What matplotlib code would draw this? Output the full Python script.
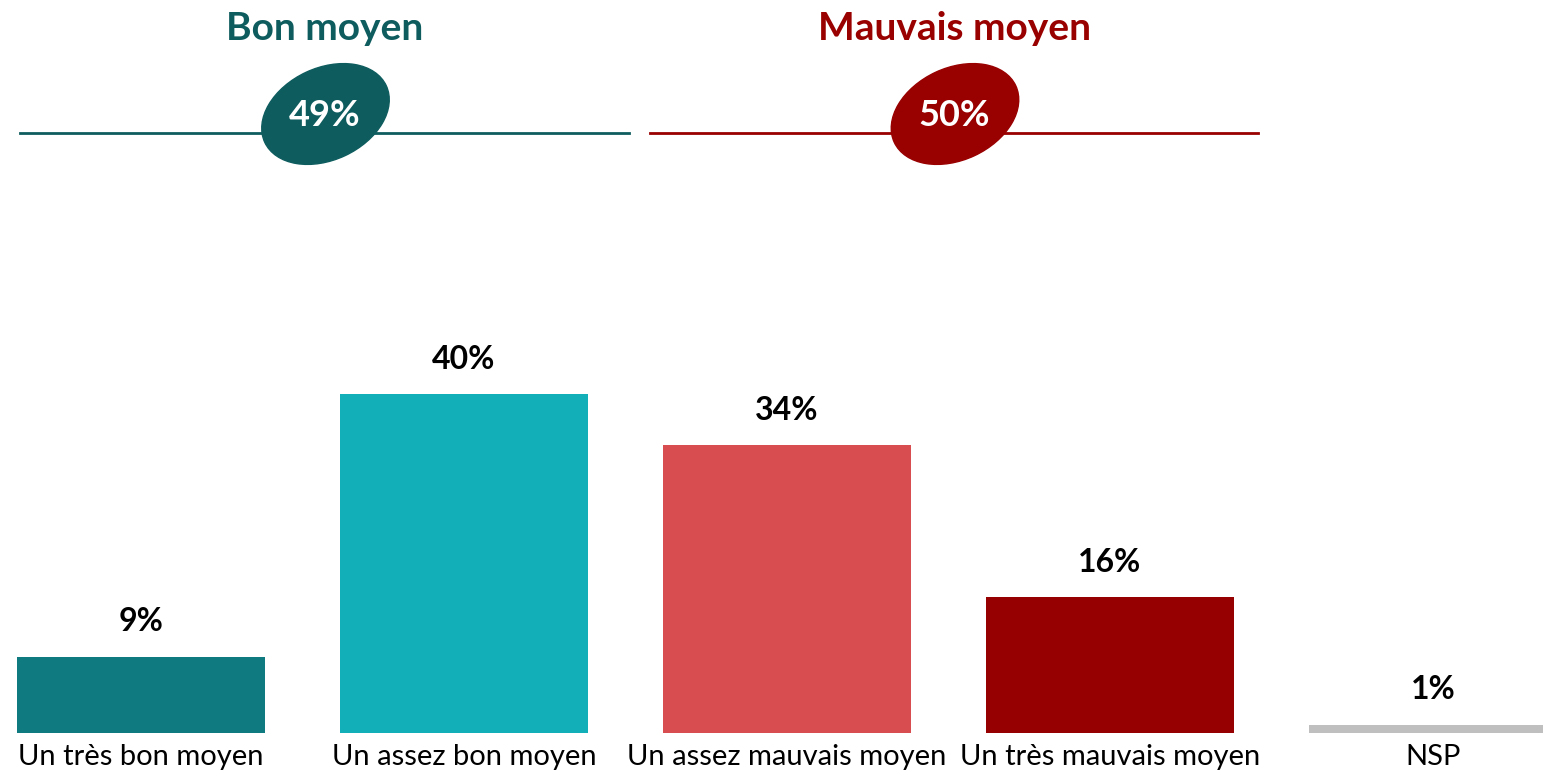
import matplotlib.pyplot as plt
from matplotlib.patches import Ellipse

plt.rcParams['font.family'] = ['Lato', 'DejaVu Sans']

categories = ['Un très bon moyen', 'Un assez bon moyen', 'Un assez mauvais moyen',
              'Un très mauvais moyen', 'NSP']
values = [9, 40, 34, 16, 1]
colors = ['#0F7A80', '#13AFB8', '#D84E50', '#960000', '#BFBFBF']

groups = ['Bon moyen', 'Mauvais moyen']
group_totals = [49, 50]
group_colors = ['#0E5C5E', '#990000']

W, H = 1543, 772
fig = plt.figure(figsize=(W / 100, H / 100), dpi=100)

# bar axes: baseline at 733 px from top
base = (H - 733) / H
ax = fig.add_axes([0, base, 1, 1 - base])
px_per_pct = 8.475
ax.set_ylim(0, 733 / px_per_pct)
step = 323
x0 = 141
ax.set_xlim(-x0 / step, (W - x0) / step)

xs = range(len(categories))
ax.bar(xs, values, width=0.77, color=colors)
for x, v in zip(xs, values):
    ax.text(x, v + 2.4, f'{v}%', ha='center', va='bottom', fontsize=23,
            fontweight='bold', color='black')
ax.set_xticks(list(xs))
ax.set_xticklabels(categories, fontsize=21)
ax.tick_params(axis='x', length=0, pad=8)
ax.set_yticks([])
for s in ax.spines.values():
    s.set_visible(False)

# header overlay in pixel coordinates
ov = fig.add_axes([0, 0, 1, 1], facecolor='none')
ov.set_xlim(0, W)
ov.set_ylim(H, 0)
ov.axis('off')

spans = [(20, 629), (650, 1258)]
for (a, b), name, tot, c in zip(spans, groups, group_totals, group_colors):
    cx = (a + b) / 2
    ov.plot([a, b], [133, 133], color=c, lw=2)
    ov.add_patch(Ellipse((cx + 1, 114), 134, 92, angle=-25, color=c, zorder=3))
    ov.text(cx, 116, f'{tot}%', ha='center', va='center', fontsize=26,
            fontweight='bold', color='white', zorder=4)
    ov.text(cx, 28, name, ha='center', va='center', fontsize=28,
            fontweight='bold', color=c)

fig.savefig('out.png', dpi=100)
